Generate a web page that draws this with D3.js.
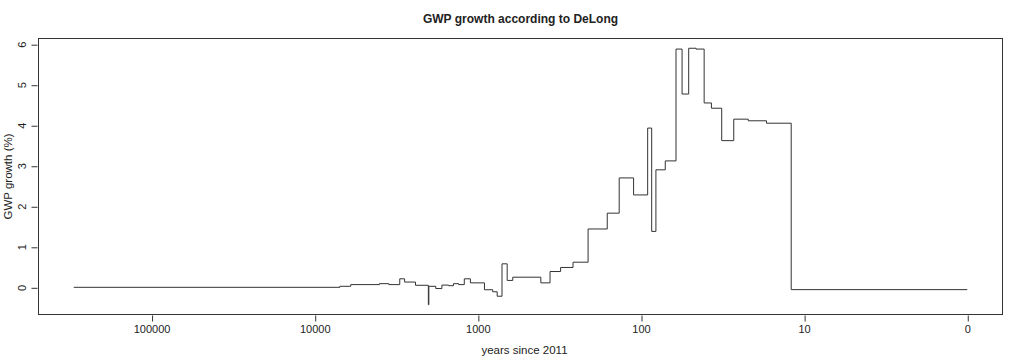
<!DOCTYPE html>
<html>
<head>
<meta charset="utf-8">
<script src="https://cdn.jsdelivr.net/npm/d3@7"></script>
<style>
  html, body { margin: 0; padding: 0; background: #fff; }
  svg { display: block; font-family: "Liberation Sans", Arial, Helvetica, sans-serif; }
</style>
</head>
<body>
<svg id="chart" width="1024" height="364"></svg>
<script>
// Years since 2011 at which each growth period starts (step-after)
const yearsSince2011 = [300000, 7011, 6011, 4011, 3511, 3011, 2811, 2411, 2011, 1997,
  1811, 1661, 1511, 1411, 1311, 1211, 1111, 911, 811, 761, 711, 661, 611, 411, 361,
  311, 261, 211, 161, 136, 111, 91, 86, 81, 71, 61, 56, 51, 46, 41, 37, 32, 27, 22,
  17, 12, 1];
// GWP growth (%) over each period
const gwpGrowth = [0, 0.025, 0.067, 0.09, 0.067, 0.21, 0.13, 0.05, -0.43, 0.025,
  -0.03, 0.055, 0.04, 0.09, 0.067, 0.21, 0.11, -0.06, -0.11, -0.22, 0.58, 0.17, 0.25,
  0.11, 0.39, 0.49, 0.62, 1.44, 1.83, 2.70, 2.28, 3.93, 1.38, 2.90, 3.12, 5.88, 4.77,
  5.90, 5.88, 4.55, 4.42, 3.62, 4.15, 4.11, 4.05, -0.057, -0.057];
const xTickValues = [100000, 10000, 1000, 100, 10, 1];
const xTickLabels = ["100000", "10000", "1000", "100", "10", "0"];
const yTickValues = [0, 1, 2, 3, 4, 5, 6];

const titleText = "GWP growth according to DeLong";
const xTitle = "years since 2011";
const yTitle = "GWP growth (%)";

const data = yearsSince2011.map((yr, i) => ({ yr, g: gwpGrowth[i] }));

const W = 1024, H = 364;
const m = { left: 38, right: 21, top: 38, bottom: 49 };
const svg = d3.select("#chart");

// R-style 4% axis extension
const lMax = Math.log10(d3.max(yearsSince2011)), lMin = Math.log10(d3.min(yearsSince2011));
const lPad = 0.04 * (lMax - lMin);
const x = d3.scaleLog()
  .domain([Math.pow(10, lMax + lPad), Math.pow(10, lMin - lPad)])
  .range([m.left, W - m.right]);

const gMin = d3.min(gwpGrowth), gMax = d3.max(gwpGrowth);
const gPad = 0.04 * (gMax - gMin);
const y = d3.scaleLinear()
  .domain([gMin - gPad, gMax + gPad])
  .range([H - m.bottom, m.top]);

const ink = "#222";
const lineInk = "#333";

// X axis
const xAxis = svg.append("g")
  .attr("transform", `translate(0,${H - m.bottom + 0.5})`)
  .call(d3.axisBottom(x).tickValues(xTickValues)
    .tickFormat((d, i) => xTickLabels[i]).tickSize(6).tickPadding(4));
xAxis.select(".domain").remove();
xAxis.selectAll("line").attr("stroke", lineInk).attr("transform", "translate(0.5,0)");
xAxis.selectAll("text").attr("fill", ink).style("font-size", "11px");

// Y axis
const yAxis = svg.append("g")
  .attr("transform", `translate(${m.left - 0.5},0)`)
  .call(d3.axisLeft(y).tickValues(yTickValues).tickFormat(d3.format("d")).tickSize(6).tickPadding(4));
yAxis.select(".domain").remove();
yAxis.selectAll("line").attr("stroke", lineInk).attr("transform", "translate(0,0.5)");
yAxis.selectAll(".tick text")
  .attr("fill", ink).style("font-size", "11px")
  .attr("x", 0).attr("y", 0)
  .attr("text-anchor", "middle")
  .attr("dy", "0.35em")
  .attr("transform", "translate(-15,0) rotate(-90)");

// Box
svg.append("rect")
  .attr("x", m.left + 0.5).attr("y", m.top + 0.5)
  .attr("width", W - m.left - m.right - 1).attr("height", H - m.top - m.bottom - 1)
  .attr("fill", "none").attr("stroke", lineInk).attr("stroke-width", 1);

// Step line
const line = d3.line()
  .x(d => x(d.yr))
  .y(d => y(d.g))
  .curve(d3.curveStepAfter);
svg.append("path")
  .datum(data)
  .attr("d", line)
  .attr("fill", "none")
  .attr("stroke", lineInk)
  .attr("stroke-width", 1);

// Titles
svg.append("text")
  .attr("x", (m.left + W - m.right) / 2).attr("y", 23)
  .attr("text-anchor", "middle")
  .style("font-size", "12px").style("font-weight", "bold")
  .attr("fill", ink)
  .text(titleText);

svg.append("text")
  .attr("x", (m.left + W - m.right) / 2 + 4).attr("y", 354)
  .attr("text-anchor", "middle")
  .style("font-size", "11.5px")
  .attr("fill", ink)
  .text(xTitle);

svg.append("text")
  .attr("transform", `translate(12,${(m.top + H - m.bottom) / 2}) rotate(-90)`)
  .attr("text-anchor", "middle")
  .style("font-size", "11.5px")
  .attr("fill", ink)
  .text(yTitle);
</script>
</body>
</html>
